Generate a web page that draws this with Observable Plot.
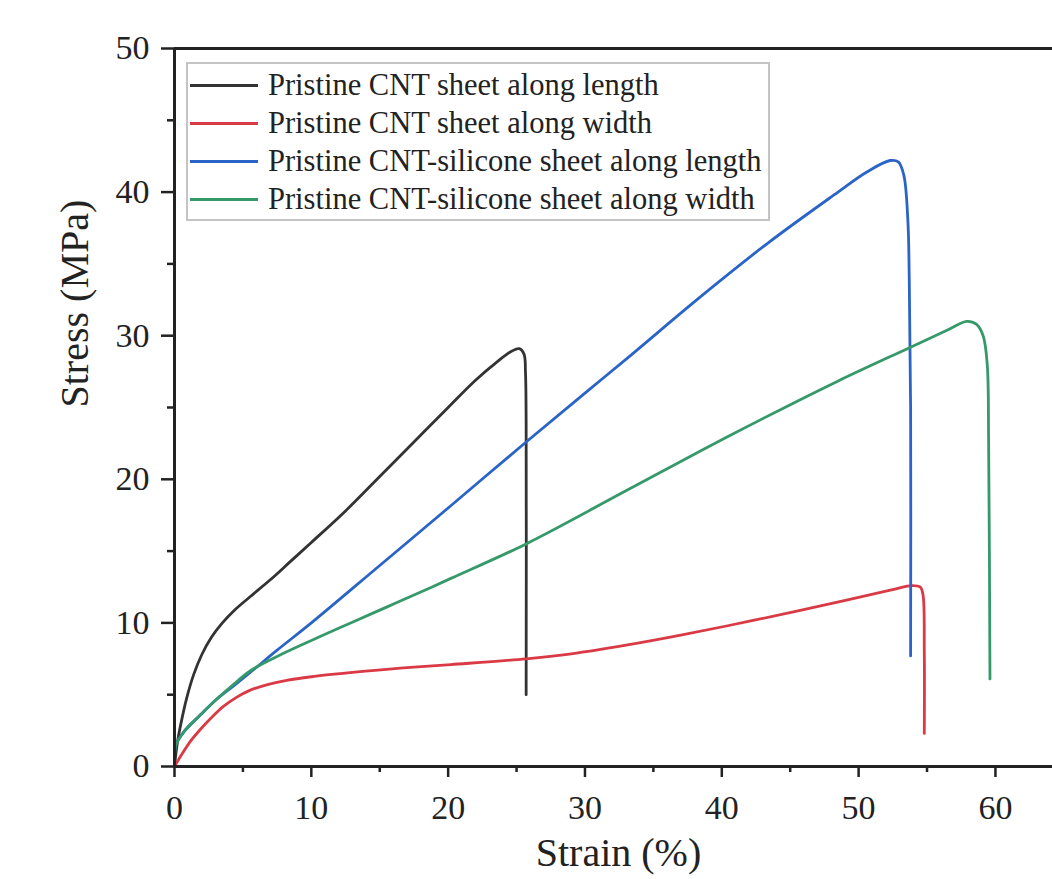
<!DOCTYPE html>
<html>
<head>
<meta charset="utf-8">
<script src="https://cdn.jsdelivr.net/npm/d3@7"></script>
<script src="https://cdn.jsdelivr.net/npm/@observablehq/plot@0.6"></script>
<style>
  html, body { margin: 0; padding: 0; background: #fff; }
  #wrap { position: relative; width: 1052px; height: 879px; overflow: hidden; }
  #legend {
    position: absolute; left: 186px; top: 62px; width: 580px; height: 153px;
    border: 2px solid #c4c4c4; background: #fff;
    font-family: "Liberation Serif", "Times New Roman", serif; font-size: 30.5px; color: #222;
    box-sizing: content-box; padding-top: 2px;
  }
  .row { height: 38px; display: flex; align-items: center; white-space: nowrap; }
  .sw { flex: 0 0 68px; width: 68px; height: 3px; margin-left: 2px; margin-right: 10px; }
</style>
</head>
<body>
<div id="wrap"></div>
<script>
// ---- data ----
const seriesNames = [
  "Pristine CNT sheet along length",
  "Pristine CNT sheet along width",
  "Pristine CNT-silicone sheet along length",
  "Pristine CNT-silicone sheet along width"
];
const seriesColors = ["#333333", "#d93a45", "#2a64c6", "#35996a"];

const lengthStrain = [0, 0.2, 0.45, 0.9, 1.4, 2.0, 2.7, 3.5, 4.4, 5.5, 7.0, 8.5, 10.0, 12.5, 15.0, 17.5, 20.0, 22.0, 23.6, 24.6, 25.2, 25.55, 25.65, 25.7, 25.7];
const lengthStress = [0, 1.6, 2.9, 4.8, 6.4, 7.8, 9.0, 10.0, 10.9, 11.8, 13.0, 14.3, 15.6, 17.8, 20.2, 22.6, 25.0, 26.9, 28.2, 28.9, 29.1, 28.7, 27.5, 24.0, 5.0];

const widthStrain = [0, 0.5, 1.2, 2.0, 2.8, 3.6, 4.5, 5.5, 6.8, 8.2, 10.0, 13.0, 16.5, 20.2, 25.7, 29.0, 33.0, 37.0, 42.2, 47.3, 52.4, 53.9, 54.5, 54.7, 54.8, 54.8];
const widthStress = [0, 0.8, 1.8, 2.7, 3.5, 4.2, 4.8, 5.3, 5.7, 6.0, 6.25, 6.55, 6.85, 7.1, 7.5, 7.85, 8.45, 9.15, 10.15, 11.2, 12.3, 12.6, 12.5, 12.0, 8.0, 2.3];

const siliconeLengthStrain = [0, 0.1, 0.67, 1.9, 3.1, 4.3, 5.6, 7.5, 10.0, 15.0, 20.0, 25.7, 30.0, 33.3, 38.3, 43.3, 48.2, 50.6, 52.3, 52.9, 53.3, 53.6, 53.7, 53.8, 53.8];
const siliconeLengthStress = [0.5, 1.5, 2.4, 3.6, 4.7, 5.6, 6.6, 8.1, 10.0, 14.0, 18.0, 22.6, 26.0, 28.6, 32.6, 36.4, 39.8, 41.4, 42.2, 42.1, 41.2, 38.0, 34.0, 25.0, 7.7];

const siliconeWidthStrain = [0, 0.1, 0.67, 1.9, 3.1, 4.3, 5.6, 8.0, 10.4, 13.0, 15.5, 18.0, 20.2, 25.7, 33.2, 40.7, 48.4, 53.8, 56.5, 57.9, 58.6, 59.1, 59.4, 59.5, 59.6];
const siliconeWidthStress = [0.5, 1.5, 2.4, 3.6, 4.7, 5.7, 6.7, 7.9, 8.95, 10.05, 11.1, 12.15, 13.1, 15.5, 19.3, 23.1, 26.8, 29.2, 30.4, 31.0, 30.8, 30.0, 28.0, 22.7, 6.1];

const xMajorTicks = [0, 10, 20, 30, 40, 50, 60];
const xMinorTicks = [5, 15, 25, 35, 45, 55];
const yMajorTicks = [0, 10, 20, 30, 40, 50];
const yMinorTicks = [5, 15, 25, 35, 45];
const xLabel = "Strain (%)";
const yLabel = "Stress (MPa)";

// ---- build rows ----
const strainArrays = [lengthStrain, widthStrain, siliconeLengthStrain, siliconeWidthStrain];
const stressArrays = [lengthStress, widthStress, siliconeLengthStress, siliconeWidthStress];
const rows = [];
seriesNames.forEach((name, i) => {
  strainArrays[i].forEach((s, j) => rows.push({series: name, strain: s, stress: stressArrays[i][j]}));
});

const font = "Liberation Serif, Times New Roman, serif";
const axisColor = "#222";

const chart = Plot.plot({
  width: 1052,
  height: 879,
  marginLeft: 174,
  marginRight: 0,
  marginTop: 48,
  marginBottom: 113,
  x: {domain: [0, 64.17]},
  y: {domain: [0, 50]},
  color: {domain: seriesNames, range: seriesColors},
  style: {fontFamily: font, background: "white", color: axisColor, overflow: "visible"},
  marks: [
    Plot.line(rows, {x: "strain", y: "stress", z: "series", stroke: "series", strokeWidth: 2.8, curve: "catmull-rom"}),
    Plot.ruleX([0], {stroke: axisColor, strokeWidth: 3}),
    Plot.ruleY([0], {stroke: axisColor, strokeWidth: 3}),
    Plot.ruleY([50], {stroke: axisColor, strokeWidth: 3}),
    Plot.axisX({ticks: xMajorTicks, tickSize: 11, tickPadding: 17, fontSize: 34, strokeWidth: 2.5, stroke: axisColor, fill: axisColor, label: null}),
    Plot.axisX({ticks: xMinorTicks, tickSize: 6, tickFormat: () => "", strokeWidth: 2.5, stroke: axisColor, label: null}),
    Plot.axisY({ticks: yMajorTicks, tickSize: 13, tickPadding: 12, fontSize: 34, strokeWidth: 2.5, stroke: axisColor, fill: axisColor, label: null}),
    Plot.axisY({ticks: yMinorTicks, tickSize: 7, tickFormat: () => "", strokeWidth: 2.5, stroke: axisColor, label: null}),
    Plot.text([xLabel], {frameAnchor: "bottom", dy: 99, dx: 5, fontSize: 40, fill: axisColor}),
    Plot.text([yLabel], {frameAnchor: "left", dx: -99, rotate: -90, fontSize: 40, fill: axisColor})
  ]
});

const wrap = document.getElementById("wrap");
wrap.appendChild(chart);

// legend
const legend = document.createElement("div");
legend.id = "legend";
seriesNames.forEach((name, i) => {
  const row = document.createElement("div");
  row.className = "row";
  const sw = document.createElement("div");
  sw.className = "sw";
  sw.style.background = seriesColors[i];
  const t = document.createElement("span");
  t.textContent = name;
  row.appendChild(sw);
  row.appendChild(t);
  legend.appendChild(row);
});
wrap.appendChild(legend);
</script>
</body>
</html>
